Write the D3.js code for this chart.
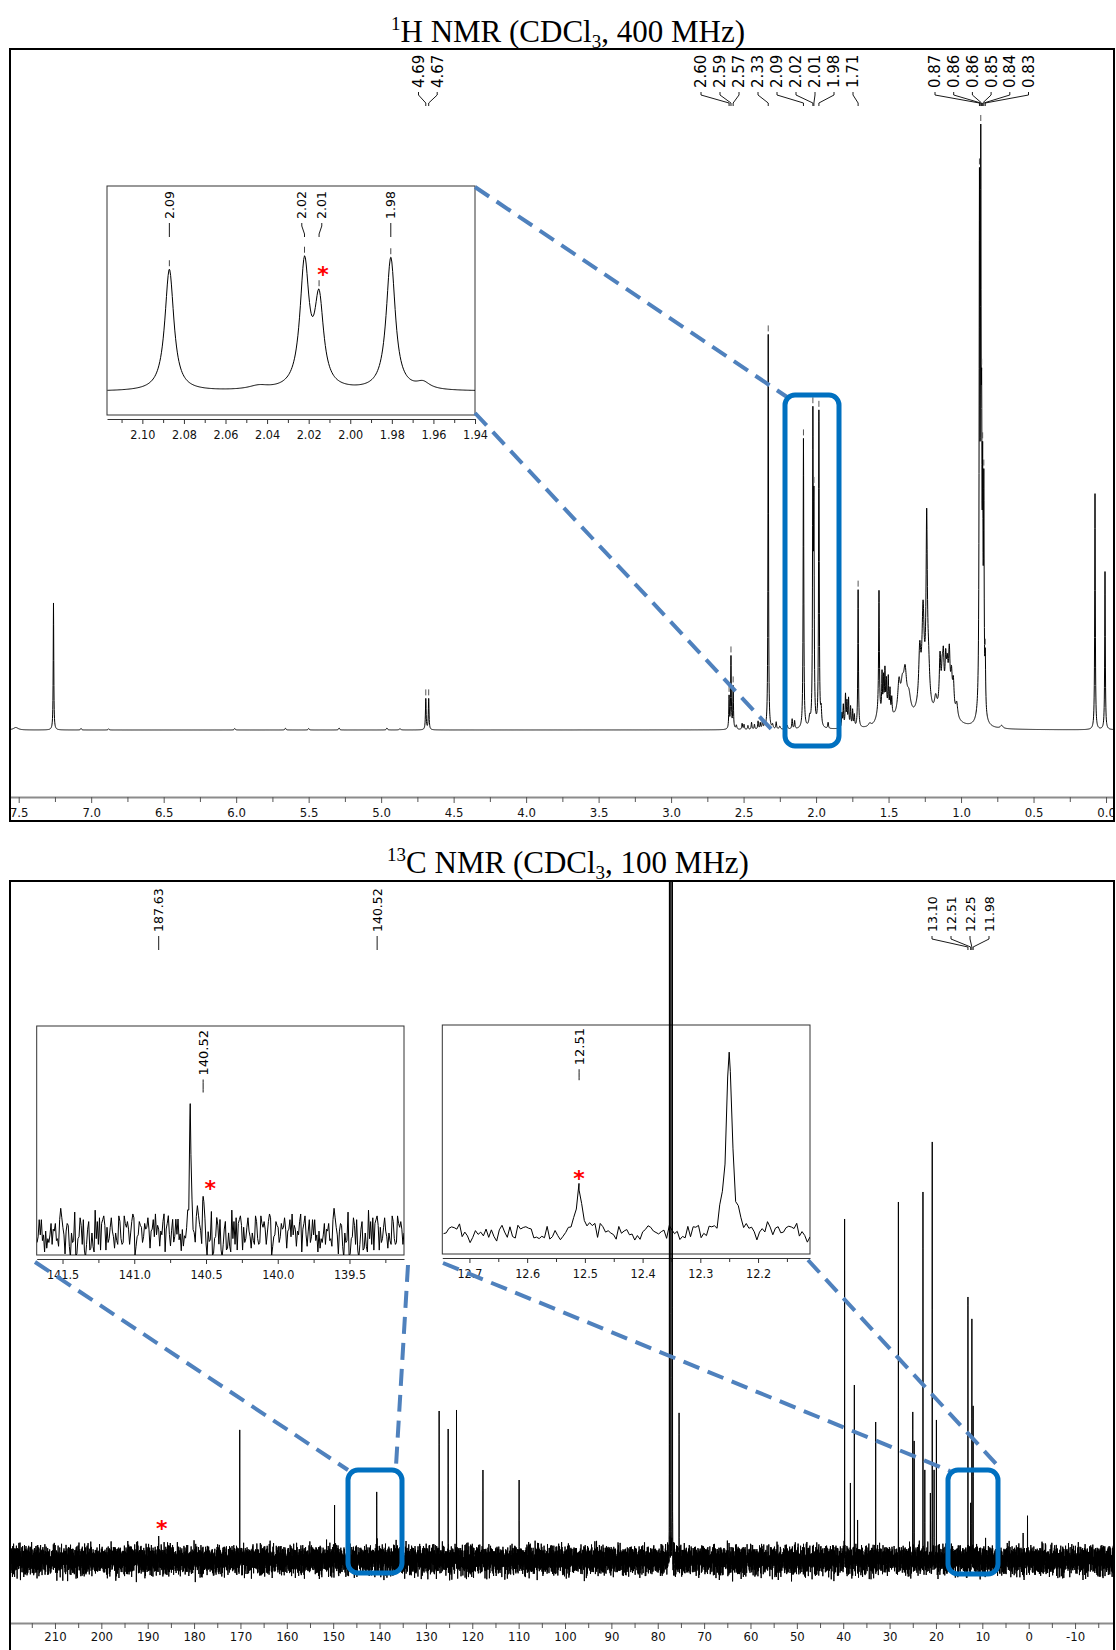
<!DOCTYPE html>
<html>
<head>
<meta charset="utf-8">
<script src="https://cdn.jsdelivr.net/npm/d3@7"></script>
<style>
  body { margin: 0; background: #fff; }
  svg { display: block; }
</style>
</head>
<body>
<script>
// ---------------- 1H spectrum: peak list [ppm, height, half width (ppm)] ----------------
const hPeaks = [
  [7.52, 2.5, 0.02], [7.26, 127, 0.0022], [7.07, 1.5, 0.004], [6.88, 1.2, 0.004],
  [6.01, 1.5, 0.004], [5.66, 1.8, 0.004], [5.50, 1.5, 0.004], [5.29, 2.0, 0.004],
  [4.96, 2.0, 0.004], [4.87, 1.2, 0.006], [4.692, 31, 0.0028], [4.672, 31, 0.0028],
  [2.600, 32, 0.0025], [2.587, 72, 0.0025], [2.572, 42, 0.0025], [2.55, 4, 0.004],
  [2.51, 6, 0.003], [2.497, 5, 0.003], [2.47, 4, 0.003], [2.445, 7, 0.003],
  [2.425, 5, 0.003], [2.40, 8, 0.003], [2.385, 6, 0.003], [2.37, 9, 0.003],
  [2.355, 5, 0.003], [2.330, 395, 0.0022], [2.30, 4, 0.004], [2.275, 7, 0.003],
  [2.25, 3, 0.005], [2.20, 4, 0.005], [2.165, 10, 0.003], [2.148, 8, 0.003],
  [2.087, 290, 0.0026], [2.044, 9, 0.006], [2.022, 296, 0.0026], [2.015, 205, 0.0026],
  [1.9805, 316, 0.0026], [1.965, 16, 0.004], [1.917, 6, 0.003],
  [1.822, 14, 0.003], [1.812, 22, 0.003], [1.797, 32, 0.003], [1.787, 24, 0.003],
  [1.776, 28, 0.003], [1.762, 20, 0.003], [1.748, 17, 0.003], [1.736, 12, 0.003],
  [1.710, 138, 0.0025], [1.63, 3, 0.01], [1.566, 122, 0.003], [1.57, 10, 0.02],
  [1.545, 40, 0.0028], [1.535, 34, 0.0028], [1.525, 40, 0.0028], [1.515, 28, 0.0028],
  [1.502, 32, 0.0028], [1.49, 22, 0.0028], [1.478, 16, 0.003], [1.51, 14, 0.035],
  [1.428, 30, 0.01], [1.405, 22, 0.012], [1.386, 36, 0.012], [1.36, 18, 0.015],
  [1.40, 12, 0.05], [1.285, 50, 0.008], [1.262, 80, 0.008], [1.237, 168, 0.005],
  [1.225, 40, 0.01], [1.26, 30, 0.04], [1.175, 15, 0.01], [1.145, 50, 0.006],
  [1.13, 30, 0.006], [1.122, 38, 0.005], [1.106, 36, 0.005], [1.095, 30, 0.006],
  [1.081, 48, 0.006], [1.066, 30, 0.006], [1.053, 28, 0.006], [1.03, 14, 0.008],
  [1.10, 25, 0.05], [0.873, 500, 0.0026], [0.864, 505, 0.0026], [0.858, 220, 0.0026],
  [0.851, 200, 0.0026], [0.843, 210, 0.0026], [0.833, 50, 0.003], [0.86, 15, 0.02],
  [0.72, 3, 0.01], [0.076, 236, 0.0024], [0.007, 158, 0.0024]
];

// picked 1H peaks: [label, ppm], one list per label cluster
const hLabelGroups = [
  [["4.69", 4.692], ["4.67", 4.672]],
  [["2.60", 2.600], ["2.59", 2.587], ["2.57", 2.572], ["2.33", 2.330], ["2.09", 2.087],
   ["2.02", 2.022], ["2.01", 2.015], ["1.98", 1.9805], ["1.71", 1.710]],
  [["0.87", 0.873], ["0.86", 0.864], ["0.86", 0.858], ["0.85", 0.851], ["0.84", 0.843], ["0.83", 0.833]]
];
const hInsetLabels = [["2.09", 2.087], ["2.02", 2.022], ["2.01", 2.015], ["1.98", 1.9805]];
const hInsetStar = 2.015;

const hAxisLabels = [7.5, 7.0, 6.5, 6.0, 5.5, 5.0, 4.5, 4.0, 3.5, 3.0, 2.5, 2.0, 1.5, 1.0, 0.5, 0.0];
const hAxisMinor = [7.25, 6.75, 6.25, 5.75, 5.25, 4.75, 4.25, 3.75, 3.25, 2.75, 2.25, 1.75, 1.25, 0.75, 0.25];
const hInsetAxisLabels = [2.10, 2.08, 2.06, 2.04, 2.02, 2.00, 1.98, 1.96, 1.94];
const hInsetAxisMinor = [2.11, 2.09, 2.07, 2.05, 2.03, 2.01, 1.99, 1.97, 1.95];

// ---------------- 13C spectrum ----------------
const cPeaks = [
  [187.63, 24, 0.006], [170.15, 127, 0.006], [149.7, 55, 0.006], [140.61, 68, 0.006],
  [140.52, 19, 0.006], [128.3, 16, 0.006], [127.15, 149, 0.006], [125.2, 131, 0.006],
  [123.4, 150, 0.006], [117.7, 90, 0.006], [109.9, 80, 0.006],
  [77.48, 3000, 0.006], [77.16, 3000, 0.006], [76.84, 3000, 0.006], [75.4, 147, 0.006],
  [39.7, 341, 0.006], [38.45, 77, 0.006], [37.6, 175, 0.006], [36.9, 40, 0.006],
  [33.0, 138, 0.006], [28.1, 358, 0.006], [25.0, 148, 0.006], [24.7, 119, 0.006],
  [22.8, 368, 0.006], [22.4, 90, 0.006], [21.2, 63, 0.006], [20.8, 418, 0.006],
  [20.4, 90, 0.006], [19.9, 140, 0.006], [13.10, 263, 0.006], [12.51, 57, 0.006],
  [12.25, 241, 0.006], [11.98, 154, 0.006], [1.2, 27, 0.006], [0.25, 40, 0.006]
];
// baseline noise trace (same units as peak heights)
const cNoise = [
  3, -6, 8, -2, 1, -9, 5, 10, -3, -7, 4, -1, 6, -11, 2, 9, -5, 0, -12, 4, 7, -3, -6, 11, -1,
  5, -8, 2, -4, 10, -9, 1, 6, -5, -2, 8, -10, 3, 0, 7, -6, -1, 5, -13, 2, 6, -4, 9, -7, 1,
  -3, 7, -5, 4, -8, 12, -1, -6, 5, 2, -10, 7, -3, 1, 8, -7, -2, 6, -11, 3, 0, -5, 9, -1, 2,
  -8, 7, -6, 3, 5, -9, 1, -4, 8, -2, 6, -7, 0, 13, -5, 2, -1, -8, 7, 3, -6, 9, -2, -7, 4,
  -13, 5, 1, -3, 6, -9, 2, 8, -4, -1, 7, -10, 3, 5, -2, -6, 10, -3, 1, -7, 4, 6, -5, 2, -12,
  8, -1
];
const cLabels = [["187.63", 187.63], ["140.52", 140.52]];
const cLabelGroup = [["13.10", 13.10], ["12.51", 12.51], ["12.25", 12.25], ["11.98", 11.98]];
const cStarPpm = 187.63;
const cInsetA = { label: ["140.52", 140.52], star: 140.52 };
const cInsetB = { label: ["12.51", 12.51], star: 12.51 };

const cAxisLabels = [210, 200, 190, 180, 170, 160, 150, 140, 130, 120, 110, 100, 90, 80, 70, 60, 50, 40, 30, 20, 10, 0, -10];
const cAxisMinor = [215, 205, 195, 185, 175, 165, 155, 145, 135, 125, 115, 105, 95, 85, 75, 65, 55, 45, 35, 25, 15, 5, -5, -15];
const cInsetAAxisLabels = [141.5, 141.0, 140.5, 140.0, 139.5];
const cInsetAAxisMinor = [141.25, 140.75, 140.25, 139.75, 139.25];
const cInsetBAxisLabels = [12.7, 12.6, 12.5, 12.4, 12.3, 12.2];
const cInsetBAxisMinor = [12.65, 12.55, 12.45, 12.35, 12.25, 12.15];

// ---------------- helpers ----------------
const W = 1116, H = 1650;
const SANS = "'DejaVu Sans', Verdana, sans-serif";
const NARROW = "'Liberation Sans Narrow', 'DejaVu Sans Condensed', 'Liberation Sans', sans-serif";
const COND = "'DejaVu Sans Condensed', 'DejaVu Sans', sans-serif";
const SERIF = "'Liberation Serif', 'Times New Roman', serif";
const BOX_BLUE = "#0070C0";
const DASH_BLUE = "#4F81BD";

const lineShape = peaks => v => {
  let s = 0;
  for (const p of peaks) { const d = (v - p[0]) / p[2]; s += p[1] / (1 + d * d); }
  return s;
};
const hSpec = lineShape(hPeaks);
const cSpec = lineShape(cPeaks);

// place labels at their peaks, merging overlapping ones into evenly spaced clusters
function spread(xs, gap) {
  let cl = xs.map(x => [x]);
  const pos = c => { const m = d3.mean(c); return c.map((_, i) => m - (c.length - 1) * gap / 2 + i * gap); };
  let merged = true;
  while (merged) {
    merged = false;
    for (let i = 0; i < cl.length - 1; i++) {
      const a = pos(cl[i]), b = pos(cl[i + 1]);
      if (b[0] - a[a.length - 1] < gap - 1e-9) {
        cl.splice(i, 2, cl[i].concat(cl[i + 1]));
        merged = true;
        break;
      }
    }
  }
  return cl.flatMap(pos);
}

const svg = d3.select("body").append("svg")
  .attr("width", W).attr("height", H)
  .attr("font-family", SANS);
const defs = svg.append("defs");
function clipRect(id, x, y, w, h) {
  defs.append("clipPath").attr("id", id).append("rect")
    .attr("x", x).attr("y", y).attr("width", w).attr("height", h);
}

function title(x, y, sup, main, sub, tail) {
  const t = svg.append("text").attr("x", x).attr("y", y)
    .attr("text-anchor", "middle").attr("font-family", SERIF).attr("font-size", 31);
  t.append("tspan").attr("font-size", 19).attr("dy", -12).text(sup);
  t.append("tspan").attr("dy", 12).text(main);
  t.append("tspan").attr("font-size", 19).attr("dy", 6).text(sub);
  t.append("tspan").attr("dy", -6).text(tail);
}

// rotated peak labels with their leader lines
function drawLabels(g, items, o) {
  items.forEach(it => {
    const t = g.append("text")
      .attr("transform", `translate(${it.lx},${o.anchorY}) rotate(-90)`)
      .attr("dy", "0.36em")
      .attr("text-anchor", o.top ? "end" : "start")
      .attr("font-size", o.size)
      .text(it.text);
    const len = o.top ? t.node().getComputedTextLength() : 0;
    const y0 = o.top ? o.anchorY + len + 4 : o.anchorY + 4;
    const y1 = y0 + o.lead;
    g.append("path")
      .attr("d", `M${it.lx},${y0}L${it.lx},${y0 + 3}L${it.px},${y1 - 3}L${it.px},${y1}`)
      .attr("fill", "none").attr("stroke", "#000").attr("stroke-width", 0.9);
  });
}

function star(g, x, y) {
  g.append("text").attr("x", x).attr("y", y + 12.5)
    .attr("text-anchor", "middle").attr("font-size", 22).attr("font-weight", "bold")
    .attr("fill", "#ff0000").text("*");
}

function styledAxis(g, scale, y, labels, minor, fmt, o) {
  const ax = g.append("g").attr("transform", `translate(0,${y})`)
    .call(d3.axisBottom(scale).tickValues(labels).tickFormat(fmt)
      .tickSize(o.tick).tickSizeOuter(0).tickPadding(o.pad));
  ax.select(".domain").attr("stroke", o.lineColor).attr("stroke-width", o.lineWidth);
  ax.selectAll(".tick line").attr("stroke", o.tickColor);
  ax.selectAll(".tick text").attr("font-family", o.font).attr("font-size", o.size).attr("fill", "#111");
  const mn = g.append("g").attr("transform", `translate(0,${y})`)
    .call(d3.axisBottom(scale).tickValues(minor).tickFormat("").tickSize(o.minorTick).tickSizeOuter(0));
  mn.select(".domain").remove();
  mn.selectAll(".tick line").attr("stroke", o.tickColor);
  return ax;
}

function dashed(x1, y1, x2, y2) {
  svg.append("line").attr("x1", x1).attr("y1", y1).attr("x2", x2).attr("y2", y2)
    .attr("stroke", DASH_BLUE).attr("stroke-width", 4).attr("stroke-dasharray", "17,9");
}
function blueBox(x, y, w, h) {
  svg.append("rect").attr("x", x).attr("y", y).attr("width", w).attr("height", h)
    .attr("rx", 10).attr("fill", "none").attr("stroke", BOX_BLUE).attr("stroke-width", 5);
}

// =====================================================================
// 1H panel
// =====================================================================
title(568, 42, "1", "H NMR (CDCl", "3", ", 400 MHz)");

const xH = d3.scaleLinear().domain([7.56, -0.055]).range([10, 1114]);
const yH = d3.scaleLinear().domain([0, 625]).range([730, 105]);
clipRect("clipH", 10, 49, 1104, 747);
clipRect("clipHAxis", 11, 790, 1102, 30);

// zoom inset 2.117 – 1.94 ppm
const xHi = d3.scaleLinear().domain([2.117, 1.94]).range([107, 475]);
const yHi = d3.scaleLinear().domain([0, 625]).range([391.7, 391.7 - 625 * 0.42]);
clipRect("clipHi", 107, 186, 368, 229);
const gHi = svg.append("g");
gHi.append("rect").attr("x", 107).attr("y", 186).attr("width", 368).attr("height", 229)
  .attr("fill", "#fff").attr("stroke", "#333").attr("stroke-width", 1);
const hiPts = d3.range(1.94, 2.1171, 0.0004).concat(hInsetLabels.map(d => d[1])).sort(d3.ascending)
  .map(v => [v, hSpec(v)]);
gHi.append("path").datum(hiPts).attr("clip-path", "url(#clipHi)")
  .attr("d", d3.line().x(d => xHi(d[0])).y(d => yHi(d[1])))
  .attr("fill", "none").attr("stroke", "#000").attr("stroke-width", 1);
styledAxis(gHi, xHi, 419, hInsetAxisLabels, hInsetAxisMinor, d3.format(".2f"),
  { tick: 5, minorTick: 4, pad: 6, lineColor: "#333", lineWidth: 1, tickColor: "#333", font: COND, size: 12.5 });
{
  const pxs = hInsetLabels.map(d => xHi(d[1]));
  const lxs = spread(pxs, 20);
  drawLabels(gHi, hInsetLabels.map((d, i) => ({ text: d[0], lx: lxs[i], px: pxs[i] })),
    { anchorY: 219, top: false, size: 12.5, lead: 14 });
  hInsetLabels.forEach(d => {
    const top = yHi(hSpec(d[1]));
    gHi.append("line").attr("x1", xHi(d[1])).attr("x2", xHi(d[1]))
      .attr("y1", top - 9).attr("y2", top - 3).attr("stroke", "#444").attr("stroke-width", 1);
  });
  star(gHi, xHi(hInsetStar) + 4, 269);
}

// main 1H trace
const hPts = d3.range(-0.055, 7.5601, 0.001).concat(hPeaks.map(p => p[0])).sort(d3.ascending)
  .map(v => [v, hSpec(v)]);
svg.append("path").datum(hPts).attr("clip-path", "url(#clipH)")
  .attr("d", d3.line().x(d => xH(d[0])).y(d => yH(d[1])))
  .attr("fill", "none").attr("stroke", "#000").attr("stroke-width", 1);

// peak-pick marks above labelled peaks
hLabelGroups.flat().forEach(d => {
  const top = yH(hSpec(d[1]));
  svg.append("line").attr("x1", xH(d[1])).attr("x2", xH(d[1]))
    .attr("y1", top - 9).attr("y2", top - 3).attr("stroke", "#555").attr("stroke-width", 1);
});

// labels: cluster starts and spacing
const hGroupStart = [418.5, 701, 935];
const hGroupGap = [18.7, 19, 18.7];
const gHL = svg.append("g");
hLabelGroups.forEach((grp, gi) => {
  drawLabels(gHL, grp.map((d, i) => ({ text: d[0], lx: hGroupStart[gi] + i * hGroupGap[gi], px: xH(d[1]) })),
    { anchorY: 88, top: false, size: 15, lead: 14 });
});

// axis
const gHA = svg.append("g").attr("clip-path", "url(#clipHAxis)");
styledAxis(gHA, xH, 797, hAxisLabels, hAxisMinor, d3.format(".1f"),
  { tick: 6, minorTick: 5, pad: 5, lineColor: "#8c8c8c", lineWidth: 2, tickColor: "#555", font: NARROW, size: 13 });

// connectors and highlight box
dashed(475, 187, 787, 397);
dashed(475, 413, 772, 730);
blueBox(785, 395, 54, 351);

svg.append("rect").attr("x", 10).attr("y", 49).attr("width", 1104).attr("height", 772)
  .attr("fill", "none").attr("stroke", "#000").attr("stroke-width", 2);

// =====================================================================
// 13C panel
// =====================================================================
title(568, 873, "13", "C NMR (CDCl", "3", ", 100 MHz)");

const xC = d3.scaleLinear().domain([219.7, -18.4]).range([10, 1114]);
const yC = d3.scaleLinear().domain([0, 100]).range([1560, 1460]);
clipRect("clipC", 11, 882, 1102, 740);
clipRect("clipCAxis", 11, 1615, 1102, 40);

// noise for a point index: the inset views read the trace directly, the full-width
// view overlays it with a second pass through the trace so neighbouring pixels differ
const L = cNoise.length;
const insetNoise = (stride, offset) => k => cNoise[(k * stride + offset) % L];
const fullNoise = k => cNoise[k % L] + 0.7 * cNoise[(3 * k + 11) % (L - 14)];

function noisyTrace(lo, hi, step, noiseAt, extra) {
  const n = Math.floor((hi - lo) / step) + 1;
  const pts = d3.range(n).map(k => {
    const v = lo + k * step;
    return [v, cSpec(v) + noiseAt(k)];
  });
  extra.filter(v => v >= lo && v <= hi).forEach(v => pts.push([v, cSpec(v)]));
  return pts.sort((a, b) => a[0] - b[0]);
}

// inset A: 141.68 – 139.12 ppm
const xCa = d3.scaleLinear().domain([141.68, 139.12]).range([36.7, 404]);
const yCa = d3.scaleLinear().domain([0, 100]).range([1233, 1233 - 190]);
clipRect("clipCa", 36.7, 1026, 367.3, 229);
const gCa = svg.append("g");
gCa.append("rect").attr("x", 36.7).attr("y", 1026).attr("width", 367.3).attr("height", 229)
  .attr("fill", "#fff").attr("stroke", "#333").attr("stroke-width", 1);
gCa.append("path").datum(noisyTrace(139.12, 141.68, 0.0075, insetNoise(5, 17), cPeaks.map(p => p[0])))
  .attr("clip-path", "url(#clipCa)")
  .attr("d", d3.line().x(d => xCa(d[0])).y(d => yCa(d[1])))
  .attr("fill", "none").attr("stroke", "#000").attr("stroke-width", 1);
styledAxis(gCa, xCa, 1259, cInsetAAxisLabels, cInsetAAxisMinor, d3.format(".1f"),
  { tick: 5, minorTick: 4, pad: 6, lineColor: "#333", lineWidth: 1, tickColor: "#333", font: COND, size: 12.5 });
drawLabels(gCa, [{ text: cInsetA.label[0], lx: xCa(cInsetA.label[1]), px: xCa(cInsetA.label[1]) }],
  { anchorY: 1030, top: true, size: 13, lead: 13 });
star(gCa, xCa(cInsetA.star) + 7, 1183);

// inset B: 12.747 – 12.11 ppm
const xCb = d3.scaleLinear().domain([12.747, 12.11]).range([442.3, 810]);
const yCb = d3.scaleLinear().domain([0, 100]).range([1233, 1233 - 75]);
clipRect("clipCb", 442.3, 1025, 367.7, 229);
const gCb = svg.append("g");
gCb.append("rect").attr("x", 442.3).attr("y", 1025).attr("width", 367.7).attr("height", 229)
  .attr("fill", "#fff").attr("stroke", "#333").attr("stroke-width", 1);
gCb.append("path").datum(noisyTrace(12.11, 12.747, 0.0046, insetNoise(3, 40), cPeaks.map(p => p[0])))
  .attr("clip-path", "url(#clipCb)")
  .attr("d", d3.line().x(d => xCb(d[0])).y(d => yCb(d[1])))
  .attr("fill", "none").attr("stroke", "#000").attr("stroke-width", 1);
styledAxis(gCb, xCb, 1258, cInsetBAxisLabels, cInsetBAxisMinor, d3.format(".1f"),
  { tick: 5, minorTick: 4, pad: 6, lineColor: "#333", lineWidth: 1, tickColor: "#333", font: COND, size: 12.5 });
drawLabels(gCb, [{ text: cInsetB.label[0], lx: xCb(cInsetB.label[1]), px: xCb(cInsetB.label[1]) }],
  { anchorY: 1028, top: true, size: 13, lead: 11 });
star(gCb, xCb(cInsetB.star), 1173);

// main 13C trace
svg.append("path").datum(noisyTrace(-18.4, 219.7, 0.0225, fullNoise, cPeaks.map(p => p[0])))
  .attr("clip-path", "url(#clipC)")
  .attr("d", d3.line().x(d => xC(d[0])).y(d => yC(d[1])))
  .attr("fill", "none").attr("stroke", "#000").attr("stroke-width", 1);

const gCL = svg.append("g");
drawLabels(gCL, cLabels.map(d => ({ text: d[0], lx: xC(d[1]), px: xC(d[1]) })),
  { anchorY: 932, top: false, size: 12.5, lead: 14 });
{
  const cGroupStart = 932, cGroupGap = 19;
  drawLabels(gCL, cLabelGroup.map((d, i) => ({ text: d[0], lx: cGroupStart + i * cGroupGap, px: xC(d[1]) })),
    { anchorY: 932, top: false, size: 12.5, lead: 14 });
}
star(svg, xC(cStarPpm) + 3, 1523);

const gCA = svg.append("g").attr("clip-path", "url(#clipCAxis)");
styledAxis(gCA, xC, 1623, cAxisLabels, cAxisMinor, d => String(d),
  { tick: 6, minorTick: 5, pad: 3, lineColor: "#8c8c8c", lineWidth: 2, tickColor: "#555", font: NARROW, size: 13 });

dashed(35, 1262, 348, 1470);
dashed(408, 1265, 396, 1466);
dashed(443, 1263, 950, 1471);
dashed(808, 1260, 999, 1467);
blueBox(348, 1470, 54, 103);
blueBox(948, 1470, 50, 104);

svg.append("rect").attr("x", 10).attr("y", 881).attr("width", 1104).attr("height", 780)
  .attr("fill", "none").attr("stroke", "#000").attr("stroke-width", 2);
</script>
</body>
</html>
